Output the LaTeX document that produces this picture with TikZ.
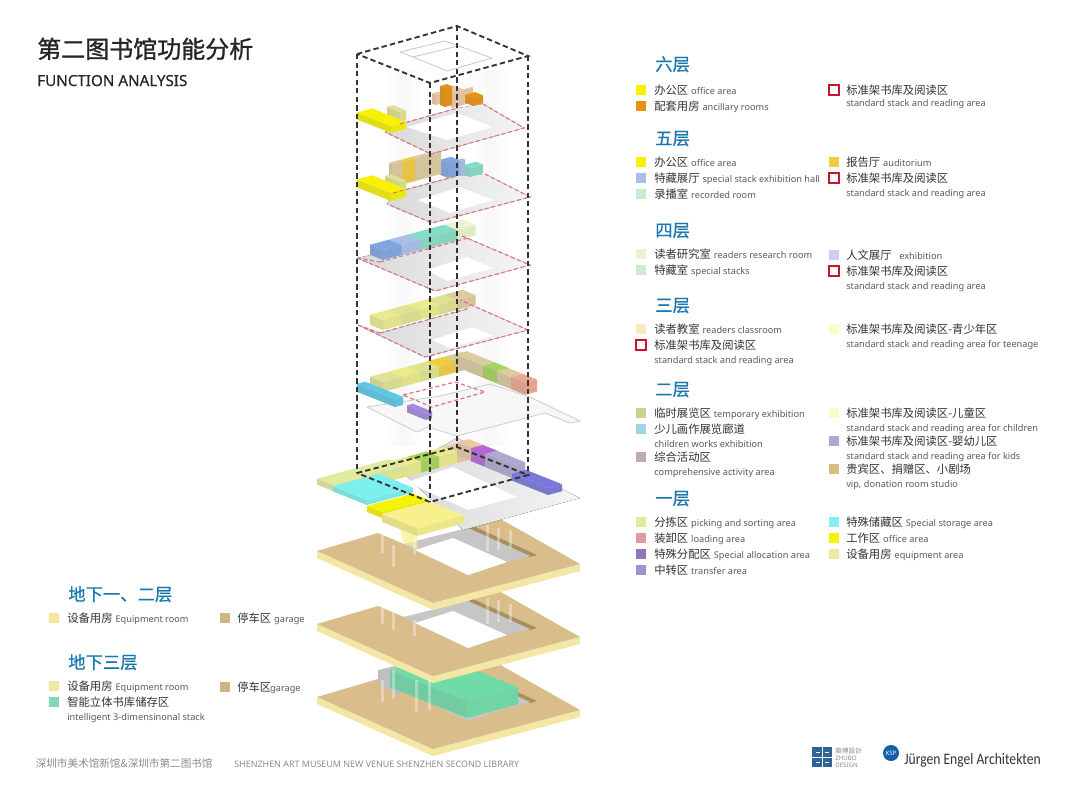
\documentclass[tikz,border=0pt]{standalone}
\usepackage{fontspec}
\usepackage{graphicx}
\setmainfont{Noto Sans}
\newfontfamily\cjk{Noto Sans CJK SC}
\newfontfamily\cjkhead[FakeBold=0.6]{Noto Sans CJK SC}
\newfontfamily\cjktitle[FakeBold=1.2]{Noto Sans CJK SC}
\newfontfamily\latinhead[FakeBold=0.35]{Noto Sans}
\newfontfamily\logofont{Carlito}
\usetikzlibrary{positioning, shapes.geometric, calc}
\definecolor{headblue}{HTML}{1B78AE}
\definecolor{txtdark}{HTML}{333333}
\definecolor{txtgray}{HTML}{5A5A5A}
\definecolor{footgray}{HTML}{8C8C8C}
\definecolor{redmark}{HTML}{C8142A}
\definecolor{redline}{HTML}{D9778A}
\definecolor{slabtan}{HTML}{D9BE8C}
\definecolor{slabrim}{HTML}{F4E7A6}
\definecolor{slabdark}{HTML}{A8905E}
\definecolor{officeyel}{HTML}{F6F200}
\definecolor{ancorange}{HTML}{E8900F}
\definecolor{audgold}{HTML}{F0CC40}
\definecolor{stackblue}{HTML}{A8C0E8}
\definecolor{recgreen}{HTML}{C8EBD0}
\definecolor{resgreen}{HTML}{E8F5D0}
\definecolor{spgreen}{HTML}{CDEBD5}
\definecolor{humlilac}{HTML}{CCCCF5}
\definecolor{classpeach}{HTML}{FBEAC0}
\definecolor{teenyel}{HTML}{FBFBC8}
\definecolor{tempgreen}{HTML}{C5D590}
\definecolor{kidblue}{HTML}{A0D5E5}
\definecolor{activmauve}{HTML}{C0A8B8}
\definecolor{kidlilac}{HTML}{B0A8D0}
\definecolor{viptan}{HTML}{D5BE80}
\definecolor{picklime}{HTML}{E0EBA0}
\definecolor{loadpink}{HTML}{E09AA0}
\definecolor{allocpurple}{HTML}{9078B8}
\definecolor{transviolet}{HTML}{9A95CC}
\definecolor{storecyan}{HTML}{85F0EB}
\definecolor{equipyel}{HTML}{F0E8A0}
\definecolor{garagetan}{HTML}{CDB585}
\definecolor{autogreen}{HTML}{85D8B5}
% block colours of the model
\definecolor{mblue}{HTML}{7FA6E2}
\definecolor{mteal}{HTML}{86DCC6}
\definecolor{mlime}{HTML}{DFE292}
\definecolor{mlimeb}{HTML}{E9EB8C}
\definecolor{mpeach}{HTML}{E8C9A4}
\definecolor{mbeige}{HTML}{DCCBA0}
\definecolor{mgreen}{HTML}{A6D45C}
\definecolor{msalmon}{HTML}{EBA88E}
\definecolor{mpurple}{HTML}{B765D6}
\definecolor{mviolet}{HTML}{7878DC}
\definecolor{mcyan}{HTML}{5CC8E4}
\definecolor{mamethyst}{HTML}{A387E0}
\definecolor{mcyanb}{HTML}{7CF0EE}
\definecolor{mpale}{HTML}{F7F08C}
\definecolor{mgreenb}{HTML}{6FDCA8}
\definecolor{logoblue}{HTML}{2F6496}
\definecolor{kspblue}{HTML}{155FA8}
\tikzset{
    itemlbl/.style={anchor=base west, inner sep=0pt, yshift=-3pt, text=txtdark, font=\fontsize{8.5}{10}\selectfont},
    sublbl/.style={anchor=base west, inner sep=0pt, yshift=-3pt, text=txtgray, font=\fontsize{6.9}{8}\selectfont},
    floorhead/.style={anchor=base west, inner sep=0pt, yshift=-5pt, text=headblue, font=\fontsize{13}{15}\selectfont\cjkhead},
    swatch/.style={rectangle, fill=#1, minimum size=7.5pt, inner sep=0pt},
    redbox/.style={rectangle, fill=white, draw=redmark, line width=1.5pt, minimum size=7pt, inner sep=0pt},
    massline/.style={line width=1.4pt, black!80, dash pattern=on 4pt off 2.4pt},
    redout/.style={redline, line width=0.9pt, densely dashed},
    plate/.style={left color=gray!30, right color=gray!8},
    shaft/.style={white, opacity=0.35},
    footlbl/.style={anchor=base west, inner sep=0pt, text=footgray}
}
\newcommand{\isobox}[6]{% colour, x, y, a, b, h
    \begin{scope}[shift={(#2,#3)}]
        \fill[fill=#1!82!gray] (0,0) -- ({-(#4)},{-0.4*(#4)}) -- ({-(#4)},{-0.4*(#4)-(#6)}) -- (0,{-(#6)}) -- cycle;
        \fill[fill=#1!91!gray] (0,0) -- ({#5},{-0.27*(#5)}) -- ({#5},{-0.27*(#5)-(#6)}) -- (0,{-(#6)}) -- cycle;
        \fill[fill=#1] (0,{-(#6)}) -- ({-(#4)},{-0.4*(#4)-(#6)}) -- ({(#5)-(#4)},{-0.4*(#4)-0.27*(#5)-(#6)}) -- ({#5},{-0.27*(#5)-(#6)}) -- cycle;
    \end{scope}}
\newcommand{\isorow}[6]{% colours far to near, far x, far y, a, b, h
    \foreach \rowcol [count=\k from 0] in {#1} {
        \pgfmathsetmacro\rx{#2-\k*(#5)}
        \pgfmathsetmacro\ry{#3+0.27*\k*(#5)}
        \isobox{\rowcol}{\rx}{\ry}{#4}{#5}{#6}
    }}
\newcommand{\slabplate}[1]{% vertical offset
    \begin{scope}[shift={(0,#1)}]
        \fill[slabrim] (317,551) -- (433,603) -- (580,564) -- (580,571) -- (433,610) -- (317,558) -- cycle;
        \fill[slabtan] (317,551) -- (378,533) -- (404,544) -- (468,528) -- (475,525) -- (497,517) -- (580,564) -- (433,603) -- cycle;
        \fill[slabdark] (473,526) -- (537,555) -- (530,557) -- (466,529) -- cycle;
        \fill[gray!45] (404,544) -- (468,528) -- (530,556) -- (507,562) -- (468,575) -- (415,550) -- cycle;
    \end{scope}}
\begin{document}
\begin{tikzpicture}[x=0.75pt, y=-0.75pt]
    \useasboundingbox (0,0) rectangle (1080,810);
    \fill[white] (0,0) rectangle (1080,810);

    % Light columns
    \fill[left color=white, right color=gray!6] (383,70) rectangle (402,445);
    \fill[left color=gray!6, right color=white] (402,70) rectangle (425,445);
    \fill[left color=white, right color=gray!6] (470,70) rectangle (490,445);
    \fill[left color=gray!6, right color=white] (490,70) rectangle (512,445);

    % Basement slabs
    \slabplate{146}
    \fill[gray!50] (378,670) -- (378,684) -- (400,695) -- (420,660) -- cycle;
    \isobox{mgreenb}{467}{718}{77}{51}{17}
    \slabplate{73}
    \fill[white] (415,623) -- (453,611) -- (507,635) -- (468,648) -- cycle;
    \slabplate{0}
    \fill[white] (415,550) -- (453,538) -- (507,562) -- (468,575) -- cycle;
    \fill[mpale, opacity=0.7] (400,528) -- (417,536) -- (417,549) -- (403,543) -- cycle;
    \foreach \xx/\yy/\hh in {381/533/20, 392/545/22, 413/540/14, 486/525/26, 497/528/22, 509/530/18, 381/606/18, 392/612/18, 413/620/16, 486/598/26, 497/600/22, 509/604/18, 381/680/22, 392/670/28, 415/680/32, 428/680/30} {
        \fill[shaft] (\xx,\yy) rectangle ++(3,\hh);
    }

    % First floor
    \fill[plate] (400,470) -- (457,438) -- (580,498) -- (463,530) -- cycle;
    \fill[white] (407,482) -- (453,467) -- (517,497) -- (468,510) -- cycle;
    \isorow{mpeach,mlimeb,mgreen,mlimeb,mlimeb}{457}{463}{13}{18}{11}
    \foreach \col [count=\k from 0] in {mpeach,mpurple,kidlilac,kidlilac} {
        \pgfmathsetmacro\rx{471+\k*14}
        \pgfmathsetmacro\ry{461+\k*5.8}
        \isobox{\col}{\rx}{\ry}{14}{12}{13}
    }
    \isobox{mviolet}{548}{495}{36}{14}{7}
    \isobox{picklime}{333}{491}{16}{72}{6}
    \isobox{mcyanb}{367}{505}{34}{46}{5}
    \isobox{officeyel}{382}{518}{15}{46}{6}
    \isobox{mpale}{417}{536}{35}{47}{8}

    % Second floor
    \fill[gray!6, draw=gray!45, line width=0.5pt] (367,407) -- (417,432) -- (428,427) -- (457,436) -- (545,413) -- (570,423) -- (580,421) -- (530,397) -- (490,384) -- (440,396) -- cycle;
    \isorow{mbeige,audgold,mlime,mlimeb,mlime}{457}{372}{13}{18.5}{10}
    \foreach \col [count=\k from 0] in {mbeige,mbeige,mgreen,mbeige,msalmon} {
        \pgfmathsetmacro\rx{469+\k*14}
        \pgfmathsetmacro\ry{372+\k*5.7}
        \isobox{\col}{\rx}{\ry}{14}{12}{12}
    }
    \draw[redout] (403,395) -- (455,382) -- (485,392) -- (432,407) -- cycle;
    \isobox{mcyan}{395}{407}{38}{8}{8}
    \isobox{mamethyst}{426}{420}{19}{6}{7}

    % Third floor
    \fill[plate] (358,325) -- (425,357) -- (528,330) -- (460,300) -- (468,309) -- (380,333) -- cycle;
    \fill[white] (432,340) -- (472,327) -- (493,336) -- (450,348) -- cycle;
    \isorow{mbeige,mlime,mlimeb,mlime,mlimeb}{457}{310}{13}{18.5}{10}
    \draw[redout] (358,325) -- (425,357) -- (528,330) -- (460,300) (380,333) -- (470,308) (358,325) -- (380,333);

    % Fourth floor
    \fill[plate] (357,258) -- (435,291) -- (530,265) -- (462,236) -- cycle;
    \fill[white] (427,270) -- (467,257) -- (493,268) -- (447,281) -- cycle;
    \isorow{resgreen,mteal,mteal,stackblue,mblue}{457}{240}{13}{18.5}{10}
    \draw[redout] (357,258) -- (435,291) -- (530,265) -- (462,236) (380,262) -- (468,238) (357,258) -- (380,262);

    % Fifth floor
    \fill[plate] (387,204) -- (393,193) -- (457,176) -- (485,174) -- (530,197) -- (432,223) -- cycle;
    \fill[white] (418,200) -- (460,187) -- (493,200) -- (450,213) -- cycle;
    \isobox{mteal}{470}{177}{7}{13}{9}
    \isobox{stackblue}{460}{176}{3}{5}{15}
    \isobox{mblue}{448}{178}{8}{11}{15}
    \isobox{mbeige}{428}{177.5}{3}{13}{22}
    \isobox{mbeige}{415}{181}{3}{13}{23}
    \isobox{audgold}{402}{184.5}{3}{13}{23}
    \isobox{mbeige}{392}{187}{3}{10}{23}
    \isobox{mlime}{400}{192}{15}{6}{10}
    \isobox{officeyel}{391}{201}{34}{15}{8}
    \draw[redout] (393,193) -- (457,176) (485,174) -- (530,197) -- (432,223) -- (387,204);

    % Sixth floor
    \fill[plate] (385,132) -- (400,124) -- (458,108) -- (483,104) -- (524,128) -- (431,154) -- cycle;
    \fill[white] (407,127) -- (457,113) -- (493,127) -- (447,140) -- cycle;
    \isobox{mpeach}{463}{104}{20}{10}{8}
    \isobox{mpeach}{452}{108}{1}{21}{15}
    \isobox{ancorange}{473}{106}{8}{10}{8}
    \isobox{mpeach}{436}{105}{4}{6}{10}
    \isobox{ancorange}{445}{107}{5}{7}{19}
    \isobox{mlime}{400}{122}{13}{6}{10}
    \isobox{officeyel}{391}{133}{34}{15}{7}
    \draw[redout] (400,124) -- (458,108) (483,104) -- (524,128) -- (431,154) -- (385,132);

    % Roof
    \draw[gray!50, line width=0.5pt] (400,52) -- (445,41) -- (492,58) -- (447,71) -- (413,57) -- (458,46) (400,52) -- (413,57);

    % Dashed mass
    \draw[massline] (357,54) -- (457,26) -- (528,56) -- (430,83) -- cycle;
    \draw[massline] (357,473) -- (457,447) -- (528,475) -- (430,502) -- cycle;
    \draw[massline] (357,54) -- (357,473);
    \draw[massline] (430,83) -- (430,502);
    \draw[massline] (457,26) -- (457,447);
    \draw[massline] (528,56) -- (528,475);

    % Title
    \node[anchor=base west, inner sep=0pt, text=black!85, font=\fontsize{18}{20}\selectfont\cjktitle] (title) at (37,58) {第二图书馆功能分析};
    \node[anchor=base west, inner sep=0pt, text=black!85, font=\fontsize{11.4}{12}\selectfont\latinhead] (subtitle) at (37,86) {FUNCTION ANALYSIS};

    % Floor headings
    \foreach \xx/\yy/\txt [count=\i] in {655/64/六层, 655/138/五层, 655/230/四层, 655/305/三层, 655/389/二层, 655/498/一层, 68/594/地下一、二层, 68/662/地下三层} {
        \node[floorhead] (head\i) at (\xx,\yy) {\txt};
    }

    % Legend, left column
    \foreach \yy/\col/\cn/\en [count=\i] in {
        90/officeyel/办公区/office area, 106/ancorange/配套用房/ancillary rooms,
        162/officeyel/办公区/office area, 178/stackblue/特藏展厅/special stack exhibition hall, 194/recgreen/录播室/recorded room,
        254/resgreen/读者研究室/readers research room, 270/spgreen/特藏室/special stacks,
        329/classpeach/读者教室/readers classroom,
        413/tempgreen/临时展览区/temporary exhibition, 429/kidblue/少儿画作展览廊道/, 457/activmauve/综合活动区/,
        522/picklime/分拣区/picking and sorting area, 538/loadpink/装卸区/loading area, 554/allocpurple/特殊分配区/Special allocation area, 570/transviolet/中转区/transfer area} {
        \node[swatch=\col] (lsw\i) at (641,\yy) {};
        \node[itemlbl] (lit\i) at (654,\yy) {{\cjk\cn} {\color{txtgray}\fontsize{6.9}{8}\selectfont\en}};
    }

    % Legend, right column
    \foreach \yy/\col/\cn/\en [count=\i] in {
        162/audgold/报告厅/auditorium,
        255/humlilac/人文展厅/\ \ exhibition,
        329/teenyel/标准架书库及阅读区-青少年区/,
        413/teenyel/标准架书库及阅读区-儿童区/, 441/kidlilac/标准架书库及阅读区-婴幼儿区/, 469/viptan/贵宾区、捐赠区、小剧场/,
        522/storecyan/特殊储藏区/Special storage area, 538/officeyel/工作区/office area, 554/equipyel/设备用房/equipment area} {
        \node[swatch=\col] (rsw\i) at (834,\yy) {};
        \node[itemlbl] (rit\i) at (846,\yy) {{\cjk\cn} {\color{txtgray}\fontsize{6.9}{8}\selectfont\en}};
    }

    % Red marked items
    \foreach \xx/\yy [count=\i] in {834/90, 834/178, 834/271, 641/345} {
        \node[redbox] (rmk\i) at (\xx,\yy) {};
        \pgfmathsetmacro\tx{\xx+(\xx<700 ? 13 : 12)}
        \node[itemlbl] (rlb\i) at (\tx,\yy) {\cjk 标准架书库及阅读区};
    }

    % Second lines
    \foreach \xx/\yy/\txt [count=\i] in {
        846/102/standard stack and reading area, 846/192/standard stack and reading area, 846/285/standard stack and reading area, 654/359/standard stack and reading area,
        846/343/standard stack and reading area for teenage, 846/427/standard stack and reading area for children, 846/455/standard stack and reading area for kids,
        846/483/{vip, donation room studio}, 654/443/children works exhibition, 654/471/comprehensive activity area, 67/716/intelligent 3-dimensinonal stack} {
        \node[sublbl] (sub\i) at (\xx,\yy) {\txt};
    }

    % Legend, basement
    \foreach \xx/\yy/\col/\cn/\en [count=\i] in {
        54/618/equipyel/设备用房/Equipment room, 225/618/garagetan/停车区/garage,
        54/686/equipyel/设备用房/Equipment room, 225/687/garagetan/停车区/\hspace{-3pt}garage,
        54/702/autogreen/智能立体书库储存区/} {
        \node[swatch=\col] (bsw\i) at (\xx,\yy) {};
        \pgfmathsetmacro\tx{\xx+(\xx<100 ? 13 : 12)}
        \node[itemlbl] (bit\i) at (\tx,\yy) {{\cjk\cn} {\color{txtgray}\fontsize{6.9}{8}\selectfont\en}};
    }

    % Footer
    \node[footlbl, font=\fontsize{7.95}{10}\selectfont\cjk] (footcn) at (35.5,767) {深圳市美术馆新馆\&深圳市第二图书馆};
    \node[footlbl, font=\fontsize{6.7}{8}\selectfont] (footen) at (234,767) {SHENZHEN ART MUSEUM NEW VENUE SHENZHEN SECOND LIBRARY};

    % Logos
    \node[rectangle, fill=logoblue, minimum size=15pt, inner sep=0pt] (zblogo) at (822,757) {};
    \draw[white, line width=0.7pt] (812,757) -- (832,757) (822,747) -- (822,767) (816,752) -- (820,752) (825,752) -- (829,752) (816,762) -- (820,762) (825,762) -- (829,762);
    \node[anchor=base west, inner sep=0pt, text=footgray, font=\fontsize{5}{6}\selectfont\cjk] (zbcn) at (835,753) {築博設計};
    \node[anchor=base west, inner sep=0pt, text=footgray, font=\fontsize{4.6}{5}\selectfont] (zben) at (835,760) {ZHUBO};
    \node[anchor=base west, inner sep=0pt, text=footgray, font=\fontsize{4.6}{5}\selectfont] (zbde) at (835,767) {DESIGN};
    \node[circle, fill=kspblue, text=white, minimum size=12pt, inner sep=0pt, font=\fontsize{4.5}{5}\selectfont\rmfamily] (ksp) at (891,753) {KSP};
    \node[anchor=base west, inner sep=0pt, text=black!80, font=\fontsize{12}{13}\selectfont\logofont] (jea) at (904,764) {\scalebox{0.85}[1]{Jürgen Engel Architekten}};
\end{tikzpicture}
\end{document}
